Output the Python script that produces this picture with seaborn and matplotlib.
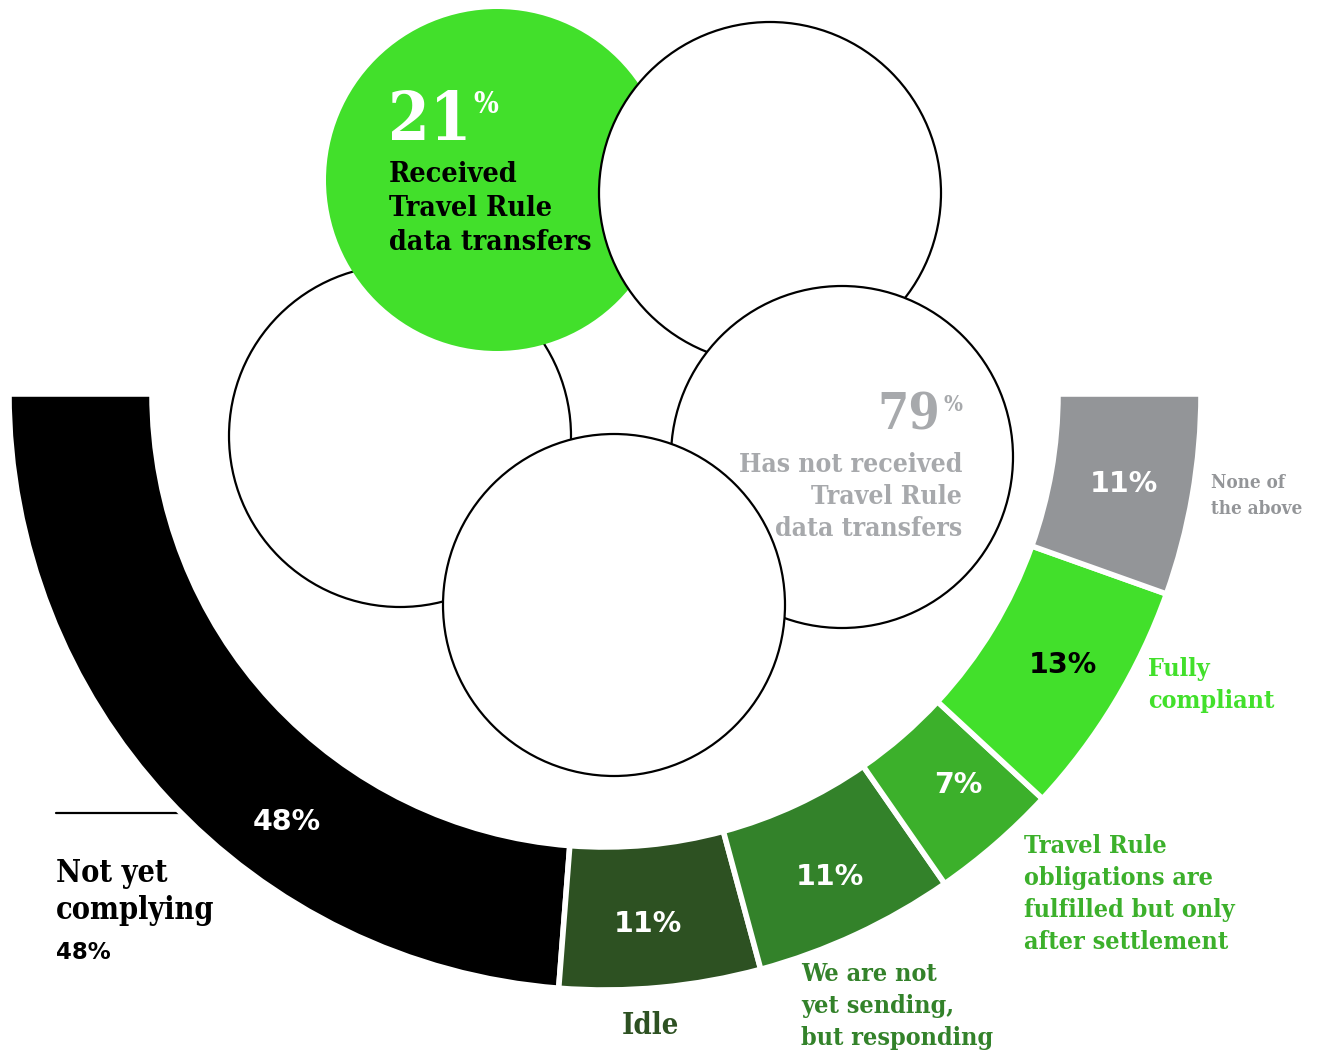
import matplotlib
matplotlib.use("Agg")
import matplotlib.pyplot as plt
from matplotlib.patches import Circle
import seaborn as sns

# ---------------- data ----------------
segment_labels = ["Not yet complying", "Idle", "We are not yet sending, but responding",
                  "Travel Rule obligations are fulfilled but only after settlement",
                  "Fully compliant", "None of the above"]
segment_values = [48, 11, 11, 7, 13, 11]
segment_colors = ["#000000", "#2d5122", "#33822a", "#3cb02b", "#42e02b", "#939598"]
value_text_colors = ["white", "white", "white", "white", "black", "white"]

received_pct = 21
not_received_pct = 79

sns.set_theme(style="white")
plt.rcParams["font.family"] = ["DejaVu Serif", "DejaVu Sans"]

W, H = 1323, 1050
fig = plt.figure(figsize=(W / 100, H / 100), dpi=100)
ax = fig.add_axes([0, 0, 1, 1])
ax.set_xlim(0, W)
ax.set_ylim(0, H)
ax.set_aspect("equal")


def Y(py):
    return H - py


SERIF = dict(family="DejaVu Serif", fontstretch="condensed", fontweight="bold")
SANS = dict(family="DejaVu Sans", fontweight="bold")

# ---------------- circles ----------------
circ_r = 171
circles = [  # (cx, cy, facecolor, zorder)
    (400, 436, "white", 1),
    (497, 180, "#42e02b", 2),
    (770, 193, "white", 3),
    (842, 457, "white", 4),
    (614, 605, "white", 5),
]
for cx, cy, fc, z in circles:
    ec = "none" if fc != "white" else "black"
    ax.add_patch(Circle((cx, Y(cy)), circ_r, facecolor=fc, edgecolor=ec,
                        linewidth=1.6, zorder=z))

# ---------------- half donut ----------------
total = sum(segment_values)
wedges, _ = ax.pie(segment_values + [total], center=(605, Y(394)), radius=596,
                   startangle=180, counterclock=True,
                   colors=segment_colors + ["white"],
                   wedgeprops=dict(width=143, edgecolor="white", linewidth=4),
                   frame=True)
wedges[-1].set_visible(False)
for w in wedges:
    w.set_zorder(6)

# leader line
ax.plot([56, 230], [Y(813), Y(813)], color="black", lw=1.6, zorder=0.5)

# value labels in ring
value_pos = [(287, 822), (648, 924), (830, 877), (958, 785), (1063, 665), (1124, 484)]
for v, (px, py), tc in zip(segment_values, value_pos, value_text_colors):
    ax.text(px, Y(py), f"{v}%", color=tc, fontsize=20.5, ha="center", va="center",
            zorder=10, **SANS)


def lines(x, y0, step, txt_lines, **kw):
    for i, t in enumerate(txt_lines):
        ax.text(x, Y(y0 + i * step), t, va="baseline", zorder=10, **kw)


# category labels
lines(56, 882, 37, ["Not yet", "complying"], color="black", fontsize=22, ha="left", **SERIF)
ax.text(56, Y(959), f"{segment_values[0]}%", color="black", fontsize=16.5,
        ha="left", va="baseline", **SANS)
lines(650, 1034, 32, ["Idle"], color=segment_colors[1], fontsize=21, ha="center", **SERIF)
lines(801, 981, 32, ["We are not", "yet sending,", "but responding"],
      color=segment_colors[2], fontsize=18, ha="left", **SERIF)
lines(1024, 853, 32, ["Travel Rule", "obligations are", "fulfilled but only", "after settlement"],
      color=segment_colors[3], fontsize=18, ha="left", **SERIF)
lines(1148, 676, 32, ["Fully", "compliant"], color=segment_colors[4], fontsize=18,
      ha="left", **SERIF)
lines(1211, 488, 26, ["None of", "the above"], color=segment_colors[5], fontsize=13.5,
      ha="left", **SERIF)

# circle texts
fig.canvas.draw()
renderer = fig.canvas.get_renderer()
inv = ax.transData.inverted()

t21 = ax.text(388, Y(140), f"{received_pct}", color="white", fontsize=48,
              ha="left", va="baseline", zorder=10, **SERIF)
bb = t21.get_window_extent(renderer)
x_end = inv.transform((bb.x1, bb.y0))[0]
ax.text(x_end + 2, Y(113), "%", color="white", fontsize=21, ha="left",
        va="baseline", zorder=10, **SERIF)
lines(389, 182, 34, ["Received", "Travel Rule", "data transfers"], color="black",
      fontsize=20.5, ha="left", **SERIF)

gray_txt = "#a7a9ac"
pct = ax.text(962, Y(411), "%", color=gray_txt, fontsize=16, ha="right",
              va="baseline", zorder=10, **SERIF)
bb = pct.get_window_extent(renderer)
x_start = inv.transform((bb.x0, bb.y0))[0]
ax.text(x_start - 3, Y(430), f"{not_received_pct}", color=gray_txt, fontsize=36,
        ha="right", va="baseline", zorder=10, **SERIF)
lines(962, 472, 32, ["Has not received", "Travel Rule", "data transfers"], color=gray_txt,
      fontsize=19, ha="right", **SERIF)

ax.axis("off")
fig.savefig("out.png", dpi=100, facecolor="white")
